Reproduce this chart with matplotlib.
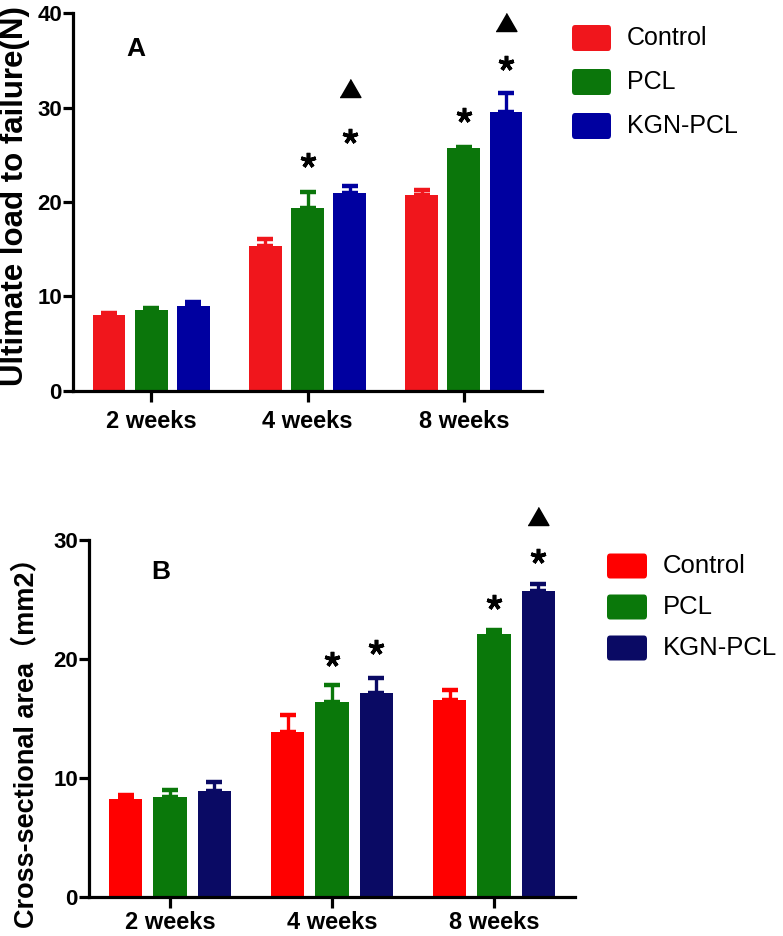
import numpy as np
import matplotlib
matplotlib.use("Agg")
import matplotlib.pyplot as plt
from matplotlib.patches import FancyBboxPatch

# ======================
# Data
# ======================
groups = ["2 weeks", "4 weeks", "8 weeks"]
series = ["Control", "PCL", "KGN-PCL"]

# Panel A: ultimate load to failure (N), mean and upper SD
load_control = [8.0, 15.3, 20.7]
load_pcl = [8.6, 19.4, 25.7]
load_kgn = [8.95, 21.0, 29.5]
load_control_err = [0.25, 0.8, 0.6]
load_pcl_err = [0.2, 1.7, 0.1]
load_kgn_err = [0.4, 0.7, 2.1]

# Panel B: cross-sectional area (mm2)
area_control = [8.2, 13.8, 16.5]
area_pcl = [8.35, 16.35, 22.05]
area_kgn = [8.85, 17.15, 25.7]
area_control_err = [0.35, 1.5, 0.85]
area_pcl_err = [0.65, 1.4, 0.35]
area_kgn_err = [0.8, 1.25, 0.55]

# significance marks: (group index, series index, y)
stars_a = [(1, 1, 24.5), (1, 2, 27.0), (2, 1, 29.2), (2, 2, 34.7)]
tri_a = [(1, 2, 32.1), (2, 2, 39.1)]
stars_b = [(1, 1, 20.0), (1, 2, 21.0), (2, 1, 24.8), (2, 2, 28.6)]
tri_b = [(2, 2, 32.0)]

# ======================
# Style
# ======================
FONT = ["Liberation Sans", "Noto Sans CJK SC", "DejaVu Sans"]
plt.rcParams["font.family"] = FONT

COLORS_A = ["#F0161C", "#0B760B", "#0000A0"]
COLORS_B = ["#FF0000", "#0A780A", "#0A0A64"]

W_PX, H_PX = 783, 936
fig = plt.figure(figsize=(W_PX / 100, H_PX / 100), dpi=100)


def px_axes(left, top, right, bottom):
    return fig.add_axes([left / W_PX, 1 - bottom / H_PX,
                         (right - left) / W_PX, (bottom - top) / H_PX])


tri_verts = [(-1, -0.866), (1, -0.866), (0, 0.866)]


def draw_panel(ax, vals, errs, colors, ymax, ylabel, letter, letter_xy,
               stars, tris, width, off, label_xy, label_size, xpad):
    x = np.arange(len(groups))
    for i, (v, e, c) in enumerate(zip(vals, errs, colors)):
        ax.bar(x + (i - 1) * off, v, width, color=c, linewidth=0,
               yerr=[np.zeros(len(e)), e],
               error_kw=dict(ecolor=c, elinewidth=2.4, capsize=6,
                             capthick=3.2, solid_capstyle="round"))
    for g, s, y in stars:
        ax.plot(g + (s - 1) * off, y, marker=(5, 2, 0), ms=11, mew=2.6,
                color="black", clip_on=False)
    for g, s, y in tris:
        ax.plot(g + (s - 1) * off, y, marker=tri_verts, ms=15,
                color="black", clip_on=False)

    ax.set_xlim(-0.5, 2.5)
    ax.set_ylim(0, ymax)
    ax.set_yticks(np.arange(0, ymax + 1, 10))
    ax.set_xticks(x)
    ax.set_xticklabels(groups, fontsize=17, fontweight="bold")
    for lab in ax.get_yticklabels():
        lab.set_fontsize(16)
        lab.set_fontweight("bold")
    for side in ["top", "right"]:
        ax.spines[side].set_visible(False)
    for side in ["left", "bottom"]:
        ax.spines[side].set_linewidth(2.3)
    ax.tick_params(axis="y", length=7, width=2.3, pad=1)
    ax.tick_params(axis="x", length=8, width=2.3, pad=xpad)
    ax.set_ylabel(ylabel, fontsize=label_size, fontweight="bold")
    ax.yaxis.set_label_coords(*label_xy)
    ax.text(letter_xy[0], letter_xy[1], letter, ha="center", va="center",
            fontsize=19, fontweight="bold")


def draw_legend(colors, left, right, centers, h, text_x, size):
    for name, c, yc in zip(series, colors, centers):
        fig.add_artist(FancyBboxPatch(
            (left / W_PX, 1 - (yc + h / 2) / H_PX),
            (right - left) / W_PX, h / H_PX,
            boxstyle="round,pad=0,rounding_size=0.004",
            transform=fig.transFigure, facecolor=c, edgecolor="none"))
        fig.text(text_x / W_PX, 1 - yc / H_PX, name, ha="left", va="center",
                 fontsize=size)


# ======================
# Panel A
# ======================
ax_a = px_axes(73, 13.3, 542, 390.7)
draw_panel(ax_a, [load_control, load_pcl, load_kgn],
           [load_control_err, load_pcl_err, load_kgn_err], COLORS_A, 40,
           "Ultimate load to failure(N)", "A", (-0.1, 36.2),
           stars_a, tri_a, 0.209, 0.27, (-0.092, 0.515), 22.5, 6)
draw_legend(COLORS_A, 572, 611, [38, 82, 126], 26, 627, 18)

# ======================
# Panel B
# ======================
ax_b = px_axes(89, 539.7, 575, 896.7)
draw_panel(ax_b, [area_control, area_pcl, area_kgn],
           [area_control_err, area_pcl_err, area_kgn_err], COLORS_B, 30,
           "Cross-sectional area（mm2）", "B", (-0.056, 27.3),
           stars_b, tri_b, 0.204, 0.272, (-0.103, 0.45), 19.5, 2.5)
draw_legend(COLORS_B, 607, 647, [566, 607, 648], 25, 663, 18.5)

fig.savefig("out.png", dpi=100)
